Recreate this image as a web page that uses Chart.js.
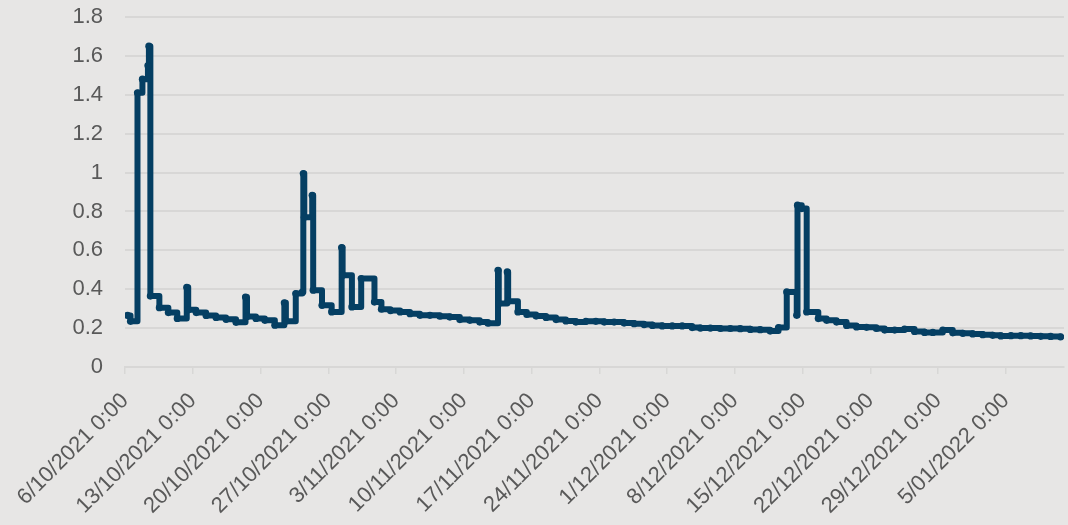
<!DOCTYPE html>
<html lang="en">
<head>
    <meta charset="UTF-8">
    <title>Step series</title>
    <script src="https://cdn.jsdelivr.net/npm/chart.js@4"></script>
    <style>
        html, body { margin: 0; padding: 0; background: #e7e6e5; }
        #wrap { width: 1068px; height: 525px; }
    </style>
</head>
<body>
    <div id="wrap"><canvas id="chart"></canvas></div>
    <script>
        // start of the x axis: 6/10/2021 0:00, x values are days after it
        const startDate = new Date(2021, 9, 6);
        const xMax = 97;
        const tickStepDays = 7;
        const yTicks = [0, 0.2, 0.4, 0.6, 0.8, 1, 1.2, 1.4, 1.6, 1.8];

        const dayOffsets = [
            0.26, 0.57, 1.29, 1.80, 2.37, 2.47, 2.62, 3.55, 4.48, 5.40,
            6.38, 6.53, 7.36, 8.38, 9.41, 10.44, 11.47, 12.45, 12.60, 13.53,
            14.45, 15.48, 16.46, 16.62, 17.64, 18.31, 18.42, 18.52, 19.34, 19.44,
            20.35, 21.35, 22.38, 22.48, 23.44, 24.40, 25.77, 26.49, 27.42, 28.42,
            29.44, 30.47, 31.50, 32.53, 33.56, 34.59, 35.62, 36.65, 37.50, 38.53,
            38.61, 39.49, 39.58, 40.59, 41.51, 42.47, 43.50, 44.53, 45.55, 46.58,
            47.61, 48.64, 49.51, 50.53, 51.56, 52.59, 53.62, 54.48, 55.50, 56.53,
            57.56, 58.59, 59.44, 60.47, 61.50, 62.53, 63.56, 64.59, 65.62, 66.65,
            67.51, 68.36, 69.39, 69.47, 69.91, 70.42, 71.62, 72.48, 73.51, 74.54,
            75.57, 76.60, 77.62, 78.48, 79.51, 80.53, 81.56, 82.59, 83.45, 84.48,
            85.51, 86.54, 87.57, 88.60, 89.63, 90.48, 91.51, 92.54, 93.56, 94.59,
            95.62, 96.65
        ];
        const values = [
            0.265, 0.235, 1.41, 1.48, 1.55, 1.65, 0.365, 0.305, 0.28, 0.25,
            0.41, 0.295, 0.28, 0.265, 0.255, 0.245, 0.23, 0.36, 0.26, 0.25,
            0.24, 0.215, 0.33, 0.235, 0.378, 0.385, 0.995, 0.77, 0.883, 0.395,
            0.317, 0.283, 0.614, 0.472, 0.309, 0.455, 0.334, 0.297, 0.29, 0.283,
            0.274, 0.266, 0.266, 0.261, 0.257, 0.244, 0.24, 0.231, 0.225, 0.497,
            0.326, 0.489, 0.338, 0.283, 0.27, 0.262, 0.255, 0.244, 0.237, 0.231,
            0.235, 0.235, 0.231, 0.231, 0.226, 0.223, 0.218, 0.214, 0.211, 0.211,
            0.211, 0.203, 0.2, 0.2, 0.198, 0.198, 0.197, 0.193, 0.192, 0.185,
            0.203, 0.386, 0.266, 0.832, 0.815, 0.283, 0.249, 0.24, 0.231, 0.214,
            0.206, 0.204, 0.198, 0.19, 0.19, 0.195, 0.183, 0.178, 0.178, 0.19,
            0.176, 0.173, 0.17, 0.166, 0.163, 0.16, 0.161, 0.161, 0.16, 0.158,
            0.157, 0.155
        ];

        const lineColor = '#053f63';
        const gridColor = '#d8d7d6';
        const labelColor = '#595959';

        function formatDay(v) {
            const d = new Date(startDate.getTime());
            d.setDate(d.getDate() + Math.round(v));
            const mm = String(d.getMonth() + 1).padStart(2, '0');
            return d.getDate() + '/' + mm + '/' + d.getFullYear() + ' 0:00';
        }

        const bgPlugin = {
            id: 'bg',
            beforeDraw(chart) {
                const ctx = chart.ctx;
                ctx.save();
                ctx.fillStyle = '#e7e6e5';
                ctx.fillRect(0, 0, chart.width, chart.height);
                ctx.restore();
            }
        };

        Chart.defaults.font.family = '"Liberation Sans", Arial, sans-serif';
        Chart.defaults.color = labelColor;

        new Chart(document.getElementById('chart'), {
            type: 'line',
            data: {
                datasets: [{
                    data: dayOffsets.map((d, i) => ({ x: d, y: values[i] })),
                    borderColor: lineColor,
                    backgroundColor: lineColor,
                    borderWidth: 6,
                    borderJoinStyle: 'round',
                    borderCapStyle: 'round',
                    stepped: true,
                    pointRadius: 3.6,
                    pointBorderWidth: 0,
                    pointBackgroundColor: lineColor,
                    fill: false
                }]
            },
            options: {
                responsive: true,
                maintainAspectRatio: false,
                animation: false,
                layout: { padding: { top: 17, right: 0, left: 0, bottom: 0 } },
                plugins: {
                    legend: { display: false },
                    tooltip: { enabled: false }
                },
                scales: {
                    x: {
                        type: 'linear',
                        min: 0,
                        max: xMax,
                        afterBuildTicks(axis) {
                            const ticks = [];
                            for (let v = 0; v <= xMax; v += tickStepDays) ticks.push({ value: v });
                            axis.ticks = ticks;
                        },
                        afterFit(axis) { axis.height = 158; },
                        ticks: {
                            minRotation: 45,
                            maxRotation: 45,
                            padding: 14,
                            font: { size: 22 },
                            color: labelColor,
                            callback: (v) => formatDay(v)
                        },
                        grid: {
                            drawOnChartArea: false,
                            color: gridColor,
                            tickLength: 7,
                            lineWidth: 1.5
                        },
                        border: { color: gridColor, width: 2 }
                    },
                    y: {
                        min: 0,
                        max: 1.8,
                        afterBuildTicks(axis) {
                            axis.ticks = yTicks.map(v => ({ value: v }));
                        },
                        afterFit(axis) { axis.width = 125; },
                        ticks: {
                            padding: 0,
                            font: { size: 22 },
                            color: labelColor,
                            callback: (v) => String(Math.round(v * 10) / 10)
                        },
                        grid: {
                            color: gridColor,
                            lineWidth: 2,
                            drawTicks: true,
                            tickLength: 22,
                            tickColor: 'rgba(0,0,0,0)'
                        },
                        border: { display: false }
                    }
                }
            },
            plugins: [bgPlugin]
        });
    </script>
</body>
</html>
